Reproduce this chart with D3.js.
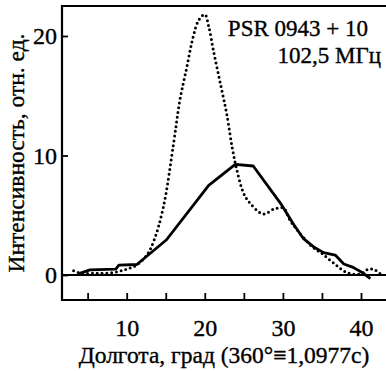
<!DOCTYPE html>
<html>
<head>
<meta charset="utf-8">
<script src="https://cdn.jsdelivr.net/npm/d3@7"></script>
<style>
  body { margin: 0; background: #fff; }
  svg { display: block; font-family: "Liberation Serif", "DejaVu Serif", serif; }
  text { stroke: #000; stroke-width: 0.35px; }
</style>
</head>
<body>
<div id="drawing_region"></div>
<script>
// longitude (deg) and intensity for the solid profile
const solidX = [3.8, 5.3, 8.6, 9.0, 11.3, 15.1, 20.5, 23.9, 26.2, 29.7, 31.4, 32.6, 33.9, 35.2, 36.7, 37.8, 39.0, 40.3, 41.2];
const solidY = [0.1, 0.43, 0.5, 0.82, 0.88, 2.95, 7.5, 9.25, 9.12, 6.0, 4.2, 3.07, 2.37, 1.87, 1.67, 0.92, 0.64, 0.14, -0.3];

// dotted profile
const dotX = [3.2, 4.2, 6.2, 8.3, 10.0, 11.3, 12.6, 13.5, 14.7, 16.0, 16.8, 17.7, 18.5, 19.2, 20.0, 20.5, 21.1, 22.0, 22.8, 23.5, 24.1, 25.0, 25.8, 27.5, 28.8, 30.1, 30.9, 31.8, 33.7, 35.0, 36.5, 38.2, 39.9, 41.0, 41.8, 42.5];
const dotY = [0.35, 0.15, 0.15, 0.2, 0.5, 0.85, 1.7, 2.9, 5.7, 11.0, 14.6, 17.4, 19.9, 21.3, 21.8, 20.8, 18.8, 16.0, 13.5, 10.7, 8.8, 6.8, 6.0, 5.1, 5.5, 5.6, 4.6, 3.8, 2.4, 1.8, 1.0, 0.2, 0.08, 0.5, 0.42, 0.08];

const xTicks = [5, 10, 15, 20, 25, 30, 35, 40];
const xLabels = [10, 20, 30, 40];
const yTicks = [0, 10, 20];

const width = 386, height = 371;
const frameLeft = 62, frameTop = 6, frameBottom = 300;

const svg = d3.select("#drawing_region").append("svg")
    .attr("width", width)
    .attr("height", height);

const xscale = d3.scaleLinear().domain([0, 40]).range([48.6, 361]);
const yscale = d3.scaleLinear().domain([0, 20]).range([275, 36]);

// frame (right side is cut off in the original)
svg.append("path")
    .attr("d", `M${width + 5},${frameTop}H${frameLeft}V${frameBottom}H${width + 5}`)
    .attr("fill", "none")
    .attr("stroke", "#000")
    .attr("stroke-width", 2.2);

// zero line
svg.append("line")
    .attr("x1", frameLeft).attr("x2", width + 5)
    .attr("y1", yscale(0)).attr("y2", yscale(0))
    .attr("stroke", "#000")
    .attr("stroke-width", 2.2);

// bottom ticks
const xaxis = d3.axisBottom(xscale)
    .tickValues(xTicks)
    .tickSize(-7)
    .tickSizeOuter(0)
    .tickPadding(19)
    .tickFormat(d => xLabels.includes(d) ? d : "");

const xg = svg.append("g")
    .attr("transform", `translate(0, ${frameBottom})`)
    .call(xaxis);
xg.select(".domain").remove();
xg.selectAll("line").attr("stroke-width", 1.8);
xg.selectAll("text")
    .attr("font-size", 24)
    .attr("font-family", "Liberation Serif")
    .attr("fill", "#000");

// left ticks
const yaxis = d3.axisLeft(yscale)
    .tickValues(yTicks)
    .tickSize(-6)
    .tickSizeOuter(0)
    .tickPadding(5);

const yg = svg.append("g")
    .attr("transform", `translate(${frameLeft}, 0)`)
    .call(yaxis);
yg.select(".domain").remove();
yg.selectAll("line").attr("stroke-width", 1.8);
yg.selectAll("text")
    .attr("font-size", 24)
    .attr("font-family", "Liberation Serif")
    .attr("fill", "#000");

// clip to the inside of the frame
svg.append("clipPath").attr("id", "plot")
    .append("rect")
    .attr("x", frameLeft).attr("y", frameTop)
    .attr("width", width - frameLeft + 5).attr("height", frameBottom - frameTop);

const plot = svg.append("g").attr("clip-path", "url(#plot)");

const dotData = dotX.map((x, i) => ({ x: x, y: dotY[i] }));
const solidData = solidX.map((x, i) => ({ x: x, y: solidY[i] }));

plot.append("path")
    .datum(dotData)
    .attr("fill", "none")
    .attr("stroke", "#000")
    .attr("stroke-width", 3)
    .attr("stroke-linecap", "round")
    .attr("stroke-dasharray", "0 4.8")
    .attr("d", d3.line().x(d => xscale(d.x)).y(d => yscale(d.y)).curve(d3.curveCatmullRom));

plot.append("path")
    .datum(solidData)
    .attr("fill", "none")
    .attr("stroke", "#000")
    .attr("stroke-width", 2.8)
    .attr("stroke-linejoin", "round")
    .attr("d", d3.line().x(d => xscale(d.x)).y(d => yscale(d.y)));

// annotation
svg.append("text")
    .attr("x", 368).attr("y", 36)
    .attr("text-anchor", "end")
    .attr("font-size", 23)
    .text("PSR 0943 + 10");

svg.append("text")
    .attr("x", 381).attr("y", 63)
    .attr("text-anchor", "end")
    .attr("font-size", 23)
    .text("102,5 МГц");

// axis titles
svg.append("text")
    .attr("x", 224).attr("y", 363)
    .attr("text-anchor", "middle")
    .attr("font-size", 23.5)
    .text("Долгота, град (360°≡1,0977с)");

svg.append("text")
    .attr("transform", "translate(24, 153) rotate(-90)")
    .attr("text-anchor", "middle")
    .attr("font-size", 23.5)
    .text("Интенсивность, отн. ед.");
</script>
</body>
</html>
